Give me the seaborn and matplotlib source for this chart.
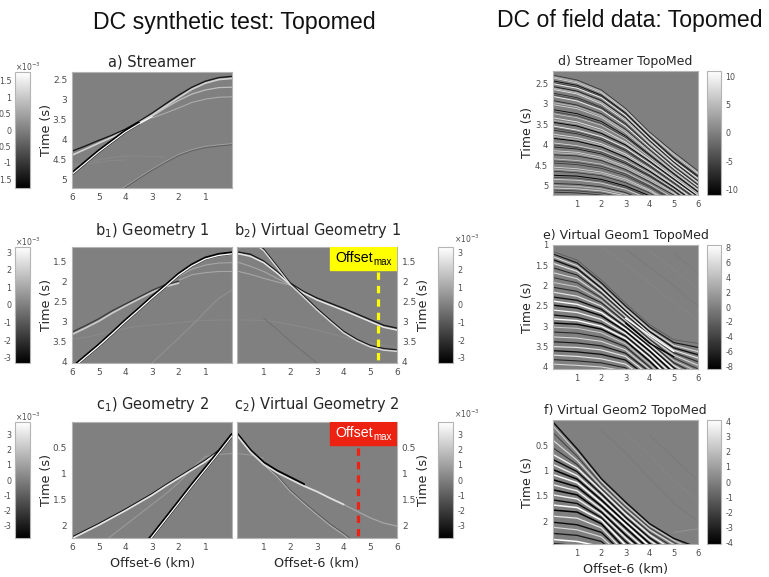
import numpy as np
import matplotlib
matplotlib.use("Agg")
import matplotlib.pyplot as plt
from matplotlib.cm import ScalarMappable
from matplotlib.colors import Normalize
from matplotlib.patches import Rectangle
import seaborn as sns

N = np.nan
sns.set_theme(style="white")
W, H = 769, 577

# ---------- synthetic panels: offset knots (km) and times (s) ----------
syn_x = [0, .5, 1, 1.5, 2, 2.5, 3, 3.5, 4, 4.5, 5, 5.5, 6]

a_t = [
    [N, N, N, N, N, N, N, N, 4.52, 4.53, 4.58, 4.62, 4.62],
    [N, N, N, N, N, 4.45, 4.43, 4.42, 4.42, 4.46, 4.52, 4.58, 4.70],
    [4.11, 4.14, 4.18, 4.26, 4.38, 4.56, 4.75, 4.96, 5.18, 5.40],
    [4.14, 4.17, 4.21, 4.29, 4.41, 4.59, 4.78, 4.99, 5.21, 5.43],
    [2.94, 2.95, 3.00, 3.08, 3.22, 3.35, 3.47],
    [2.70, 2.71, 2.77, 2.87, 3.03, 3.22, 3.43],
    [2.43, 2.46, 2.55, 2.70, 2.90, 3.12, 3.35, 3.56, 3.75, 3.90, 4.03, 4.17, 4.30],
    [2.48, 2.51, 2.60, 2.75, 2.96, 3.18, 3.40, 3.60, 3.79, 3.95, 4.10, 4.25, 4.40],
    [N, N, N, N, N, N, N, 3.60, 3.80, 4.05, 4.30, 4.58, 4.86],
    [N, N, N, N, N, N, 3.44, 3.62, 3.82, 4.07, 4.32, 4.60, 4.88],
]
a_amp = [.08, .08, .25, -.25, .35, .5, -.8, .65, -1, 1]
a_width = [.6, .6, .7, .7, .8, .9, 1.0, 1.2, 2.4, .9]

b1_t = [
    [2.97, 2.97, 2.98, 3.0, 3.03, 3.07, 3.09, 3.12, 3.18, 3.25, 3.33, 3.40, 3.44],
    [2.22, 2.43, 2.76, 3.10, 3.42, 3.73, 4.04, 4.30],
    [1.76, 1.76, 1.79, 1.84, 1.98],
    [1.54, 1.55, 1.60, 1.70, 1.88],
    [N, N, N, N, 2.05, 2.14, 2.28, 2.45, 2.62, 2.80, 3.0, 3.17, 3.33],
    [N, N, N, N, 2.0, 2.09, 2.23, 2.40, 2.57, 2.74, 2.94, 3.11, 3.27],
    [1.30, 1.34, 1.43, 1.60, 1.83, 2.12, 2.40, 2.70, 2.99, 3.30, 3.60, 3.88, 4.16],
    [1.32, 1.36, 1.45, 1.62, 1.85, 2.14, 2.42, 2.72, 3.01, 3.32, 3.62, 3.90, 4.18],
]
b1_amp = [.08, .15, .3, .3, .6, -.55, -1, 1]
b1_width = [.7, .7, .8, .8, 1.2, .9, 2.4, 1.0]

b2_t = [
    [2.97, 2.97, 2.98, 3.02, 3.08, 3.15, 3.22, 3.30, 3.40, 3.48, 3.55, 3.60, 3.65],
    [N, N, 2.92, 3.2, 3.5, 3.77, 4.04, 4.3],
    [1.75, 1.83, 1.93, 2.02, 2.10],
    [1.52, 1.63, 1.76, 1.93, 2.10],
    [1.27, 1.33, 1.50, 1.76, 2.05, 2.26, 2.42, 2.55, 2.68, 2.82, 2.96, 3.10, 3.17],
    [1.31, 1.38, 1.54, 1.80, 2.09, 2.30, 2.47, 2.60, 2.73, 2.87, 3.01, 3.15, 3.22],
    [N, .95, 1.2, 1.62, 2.05, 2.36, 2.68, 2.97, 3.25, 3.45, 3.60, 3.68, 3.71],
    [N, .99, 1.24, 1.66, 2.09, 2.40, 2.72, 3.01, 3.29, 3.49, 3.64, 3.72, 3.75],
]
b2_amp = [.08, -.12, .3, .3, -.8, .8, -.8, .7]
b2_width = [.7, .7, .8, .8, 1.0, 1.1, .9, 1.0]

c1_t = [
    [.61, .63, .67, .90, 1.18, 1.40, 1.60, 1.80, 2.0, 2.2, 2.4],
    [.22, .55, .74, .90, 1.06, 1.22, 1.39, 1.54, 1.69, 1.83, 1.97, 2.10, 2.23],
    [.25, .58, .77, .93, 1.09, 1.25, 1.42, 1.57, 1.72, 1.86, 2.00, 2.13, 2.26],
    [.25, .58, .90, 1.22, 1.55, 1.88, 2.21, 2.50],
    [.27, .60, .92, 1.24, 1.57, 1.90, 2.23, 2.52],
]
c1_amp = [.2, -.8, .8, -1, 1]
c1_width = [.8, .9, 1.2, 2.4, .9]

c2_t = [
    [.61, .64, .70],
    [N, N, .80, 1.03, 1.32, 1.55, 1.77, 1.98, 2.16, 2.36],
    [N, N, .83, 1.06, 1.35, 1.58, 1.80, 2.01, 2.19, 2.39],
    [N, N, N, N, N, N, N, N, 1.60, 1.73, 1.86, 1.96, 2.02],
    [.23, .55, .79, .95, 1.08, 1.21],
    [.26, .58, .82, .98, 1.11, 1.24, 1.35, 1.48, 1.60],
]
c2_amp = [.2, -.3, .4, .3, -1, .75]
c2_width = [.7, .7, .7, .9, 2.0, 1.3]

# ---------- field panels: offset knots (km) and times (s) ----------
field_x = [0, 1, 2, 3, 4, 5, 6]

d_t = [
    [2.30, 2.42, 2.66, 3.11, 3.69, 4.18, 4.63], [2.37, 2.49, 2.73, 3.17, 3.74, 4.25, 4.70],
    [2.44, 2.55, 2.79, 3.22, 3.80, 4.32, 4.76], [2.51, 2.62, 2.85, 3.28, 3.85, 4.38, 4.82],
    [2.58, 2.69, 2.92, 3.34, 3.90, 4.42, 4.88], [2.65, 2.76, 3.00, 3.41, 3.96, 4.47, 4.92],
    [2.74, 2.85, 3.08, 3.48, 4.02, 4.52, 4.97], [2.82, 2.93, 3.15, 3.54, 4.06, 4.56, 5.01],
    [2.92, 3.03, 3.24, 3.62, 4.12, 4.61, 5.05], [3.02, 3.12, 3.33, 3.70, 4.18, 4.66, 5.10],
    [3.14, 3.24, 3.43, 3.78, 4.24, 4.70, 5.14], [3.24, 3.34, 3.52, 3.85, 4.30, 4.75, 5.18],
    [3.34, 3.44, 3.62, 3.93, 4.35, 4.79, 5.22], [3.45, 3.54, 3.72, 4.00, 4.40, 4.83, 5.26],
    [3.54, 3.64, 3.80, 4.07, 4.46, 4.88, 5.30], [3.64, 3.73, 3.88, 4.14, 4.52, 4.93, 5.35],
    [3.74, 3.82, 3.97, 4.22, 4.58, 4.98, 5.40], [3.84, 3.91, 4.05, 4.30, 4.64, 5.03, 5.45],
    [3.95, 4.02, 4.14, 4.38, 4.70, 5.08, 5.50], [4.05, 4.10, 4.22, 4.45, 4.76, 5.12, 5.55],
    [4.14, 4.18, 4.30, 4.52, 4.82, 5.17, 5.60], [4.24, 4.27, 4.38, 4.60, 4.90, 5.22, 5.65],
    [4.34, 4.38, 4.47, 4.67, 4.96, 5.30], [4.44, 4.48, 4.57, 4.75, 5.03, 5.37],
    [4.54, 4.58, 4.66, 4.83, 5.10, 5.44], [4.64, 4.68, 4.75, 4.92, 5.17, 5.50],
    [4.74, 4.76, 4.84, 5.00, 5.24, 5.56], [4.84, 4.86, 4.93, 5.08, 5.32],
    [4.94, 4.96, 5.02, 5.16, 5.40], [5.05, 5.07, 5.12, 5.24, 5.48], [5.15, 5.17, 5.22, 5.34],
]
d_amp = [-.6, .7, -.9, .9, -.8, .8, -.7, .9, -.7, .7, -.9, .6, .8, -1, .9, -.7,
         .8, -1, .7, -.8, .7, -.7, .6, -.6, .7, -.6, -1, .7, -.7, .7, -.7]

d_mid_t = [
    [2.34, 2.46, 2.70, 3.14, 3.72, 4.22, 4.67], [2.48, 2.59, 2.82, 3.25, 3.83, 4.35, 4.79],
    [2.62, 2.73, 2.96, 3.37, 3.93, 4.45, 4.90], [2.78, 2.89, 3.11, 3.51, 4.04, 4.54, 4.99],
    [2.97, 3.07, 3.29, 3.66, 4.15, 4.63, 5.08], [3.19, 3.29, 3.48, 3.82, 4.27, 4.72, 5.16],
    [3.40, 3.49, 3.67, 3.96, 4.38, 4.81, 5.24], [3.59, 3.69, 3.84, 4.11, 4.49, 4.90, 5.32],
    [3.79, 3.87, 4.01, 4.26, 4.61, 5.00, 5.42], [4.00, 4.06, 4.18, 4.41, 4.73, 5.10, 5.52],
    [4.19, 4.22, 4.34, 4.56, 4.86, 5.20, 5.62], [4.39, 4.43, 4.52, 4.71, 5.00, 5.34],
    [4.59, 4.63, 4.70, 4.87, 5.13, 5.47], [4.79, 4.81, 4.88, 5.04, 5.28],
    [4.99, 5.01, 5.07, 5.20, 5.44], [5.10, 5.12, 5.17, 5.29, 5.50],
]
d_mid_amp = [.5, -.5, .5, -.45, .5, -.5, .45, -.5, .5, -.45, .5, -.5, .5, -.45, .5, -.5]

e_t = [
    [1.16, 1.37, 1.86, 2.43, 2.96, 3.33, 3.42], [1.22, 1.44, 1.93, 2.50, 3.02, 3.40, 3.52],
    [1.29, 1.51, 2.00, 2.56, 3.08, 3.47, 3.62], [1.36, 1.58, 2.06, 2.62, 3.13, 3.53, 3.70],
    [1.45, 1.65, 2.12, 2.66, 3.18, 3.59, 3.78], [1.56, 1.74, 2.18, 2.71, 3.22, 3.65, 3.87],
    [1.68, 1.83, 2.24, 2.76, 3.27, 3.71, 3.96], [1.80, 1.93, 2.30, 2.81, 3.32, 3.78, 4.05],
    [1.92, 2.03, 2.36, 2.86, 3.36, 3.84, 4.12], [2.04, 2.14, 2.42, 2.90, 3.40, 3.90, 4.20],
    [2.16, 2.26, 2.50, 2.96, 3.44, 3.96, 4.30], [2.28, 2.36, 2.58, 3.01, 3.50, 4.02, 4.40],
    [2.38, 2.46, 2.66, 3.07, 3.55, 4.08, 4.50], [2.48, 2.55, 2.74, 3.12, 3.61, 4.15],
    [2.60, 2.66, 2.83, 3.18, 3.67, 4.22], [2.72, 2.78, 2.93, 3.24, 3.73, 4.30],
    [2.82, 2.86, 3.00, 3.30, 3.79, 4.36], [2.92, 2.95, 3.07, 3.36, 3.86, 4.42],
    [3.02, 3.05, 3.16, 3.43, 3.93, 4.50], [3.14, 3.17, 3.27, 3.50, 4.00, 4.55],
    [3.26, 3.29, 3.37, 3.58, 4.06, 4.60], [3.38, 3.41, 3.48, 3.66, 4.12],
    [3.50, 3.52, 3.58, 3.74, 4.20], [3.60, 3.63, 3.69, 3.83, 4.28],
    [3.71, 3.74, 3.80, 3.93, 4.35], [3.82, 3.85, 3.90, 4.02, 4.42], [3.93, 3.96, 4.00, 4.10, 4.50],
    [N, N, N, 2.80, 3.22, 3.62], [N, N, N, 2.92, 3.42, 3.75],
]
e_amp = [-.3, -.8, .7, -.9, .8, -.7, .7, -.6, .6, -.7, .8, -.9, 1, -1, .9, -.9, 1, -1,
         .6, -.7, .7, -.8, .8, -.9, .8, -.7, .7, 1, -1]

e_faint_t = [
    [N, N, 1.05, 1.45, 1.95, 2.40, 2.85], [N, N, N, 1.10, 1.55, 2.0, 2.50],
    [N, N, N, N, 1.15, 1.60, 2.10], [N, N, N, N, N, 1.20, 1.70],
]
e_faint_amp = [.05, -.05, .05, -.05]

f_t = [
    [.04, .57, 1.16, 1.62, 2.05, 2.34, 2.52], [.12, .64, 1.21, 1.67, 2.09, 2.38, 2.60],
    [.25, .72, 1.26, 1.72, 2.13, 2.42, 2.66], [.40, .80, 1.31, 1.76, 2.17, 2.46, 2.72],
    [.55, .88, 1.36, 1.81, 2.22, 2.52], [.68, .95, 1.40, 1.86, 2.27, 2.58],
    [.78, 1.02, 1.46, 1.92, 2.33, 2.64], [.88, 1.10, 1.52, 1.97, 2.38, 2.70],
    [.98, 1.17, 1.58, 2.02, 2.44, 2.76], [1.08, 1.24, 1.64, 2.07, 2.50, 2.82],
    [1.18, 1.32, 1.70, 2.13, 2.56], [1.28, 1.40, 1.76, 2.20, 2.62], [1.38, 1.48, 1.82, 2.27, 2.68],
    [1.48, 1.56, 1.87, 2.33, 2.74], [1.58, 1.65, 1.93, 2.40, 2.80], [1.68, 1.73, 1.98, 2.47, 2.86],
    [1.78, 1.82, 2.05, 2.55], [1.90, 1.94, 2.13, 2.62], [2.02, 2.07, 2.22, 2.68], [2.12, 2.17, 2.31, 2.74],
    [2.24, 2.28, 2.40, 2.80], [2.36, 2.40, 2.50, 2.86], [2.44, 2.48, 2.58],
]
f_amp = [-.9, .6, -.5, .7, -.6, .9, -.9, .9, -1, 1, -1, .9, -1, .9, -.9, 1, -1, .8, -.9, .7, -.8, 1, -.8]

f_faint_t = [
    [N, N, N, N, N, 2.22, 2.15], [N, N, .20, .65, 1.15, 1.65, 2.0],
    [N, N, N, .25, .70, 1.20, 1.60], [N, N, N, N, .30, .75, 1.20],
]
f_faint_amp = [.18, -.05, .05, -.05]

# ---------- axes labels ----------
x_ticks = [1, 2, 3, 4, 5, 6]
a_yticks = [2.5, 3, 3.5, 4, 4.5, 5]
b_yticks = [1.5, 2, 2.5, 3, 3.5, 4]
c_yticks = [.5, 1, 1.5, 2]
d_yticks = [2.5, 3, 3.5, 4, 4.5, 5]
e_yticks = [1, 1.5, 2, 2.5, 3, 3.5, 4]
f_yticks = [.5, 1, 1.5, 2]
cb_a_ticks = [-1.5, -1, -.5, 0, .5, 1, 1.5]
cb_a_labels = ["1.5", "-1", "0.5", "0", "0.5", "1", "1.5"]
cb_b_ticks = [-3, -2, -1, 0, 1, 2, 3]
cb_d_ticks = [-10, -5, 0, 5, 10]
cb_e_ticks = [-8, -6, -4, -2, 0, 2, 4, 6, 8]
cb_f_ticks = [-4, -3, -2, -1, 0, 1, 2, 3, 4]

fig = plt.figure(figsize=(W / 100, H / 100), dpi=100)
BG = "#808080"
TXT = "#262626"
TICK = "#4d4d4d"
EDGE = "#b4b4b4"


def box(x0, y0, x1, y1):
    return [x0 / W, 1 - y1 / H, (x1 - x0) / W, (y1 - y0) / H]


def fmt(v):
    return f"{v:g}"


def finish(ax, rect, xlim, ylim, yticks, right=False, xlabel=False, ylab_x=53, fs=9.2, ts=6.5):
    ax.set_xlim(*xlim)
    ax.set_ylim(*ylim)
    ax.set_xticks(x_ticks, [str(v) for v in x_ticks])
    ax.set_yticks(yticks, [fmt(v) for v in yticks])
    ax.tick_params(length=0, labelsize=ts, labelcolor=TICK, pad=3.5)
    if right:
        ax.yaxis.tick_right()
        ax.yaxis.set_label_position("right")
    ax.set_ylabel("Time (s)", fontsize=fs, color=TXT)
    ax.yaxis.set_label_coords((ylab_x - rect[0]) / (rect[2] - rect[0]), .5)
    if xlabel:
        ax.set_xlabel("Offset-6 (km)", fontsize=9.2, color=TXT, labelpad=4)
    else:
        ax.set_xlabel("")
    for s in ax.spines.values():
        s.set_color(EDGE)
        s.set_linewidth(.8)


def stroke(ax, xs, ts, amp, width):
    xs, ts = np.asarray(xs[:len(ts)], float), np.asarray(ts, float)
    keep = ~np.isnan(ts)
    g = float(np.clip(.5 + .5 * amp, 0, 1))
    sns.lineplot(x=xs[keep], y=ts[keep], color=(g, g, g), linewidth=width, ax=ax,
                 estimator=None, sort=False, legend=False, errorbar=None)


def colorbar(rect, limit, ticks, left=False, exponent=None, labels=None):
    cax = fig.add_axes(box(*rect))
    sm = ScalarMappable(Normalize(-limit, limit), cmap="gray")
    cb = fig.colorbar(sm, cax=cax, ticks=ticks)
    cb.ax.set_yticklabels(labels or [fmt(v) for v in ticks])
    cb.ax.tick_params(length=0, labelsize=5.8, labelcolor=TICK, pad=3 if not left else 2.5)
    if left:
        cb.ax.yaxis.tick_left()
    cb.outline.set_edgecolor(EDGE)
    cb.outline.set_linewidth(.8)
    if exponent:
        fig.text(exponent[0] / W, 1 - exponent[1] / H, r"$\times 10^{-3}$", fontsize=5.5, color=TICK,
                 va="baseline", ha="left")


# Synthetic panels
syn_panels = [
    ((72, 72, 232, 188), (6, 0), (5.22, 2.32), a_yticks, "a) Streamer", 4, a_t, a_amp, a_width, False, False),
    ((72, 247, 232, 363), (6, 0), (4.04, 1.15), b_yticks, r"b$_{1}$) Geometry 1", 9, b1_t, b1_amp, b1_width, False, False),
    ((237, 247, 397, 363), (0, 6), (4.04, 1.15), b_yticks, r"b$_{2}$) Virtual Geometry 1", 9, b2_t, b2_amp, b2_width, True, False),
    ((72, 422, 232, 538), (6, 0), (2.25, 0), c_yticks, r"c$_{1}$) Geometry 2", 9, c1_t, c1_amp, c1_width, False, True),
    ((237, 422, 397, 538), (0, 6), (2.25, 0), c_yticks, r"c$_{2}$) Virtual Geometry 2", 9, c2_t, c2_amp, c2_width, True, True),
]
axes = {}
for rect, xl, yl, yt, title, pad, rows, amps, widths, right, xlab in syn_panels:
    ax = fig.add_axes(box(*rect))
    ax.set_facecolor(BG)
    for r, am, wd in zip(rows, amps, widths):
        stroke(ax, syn_x, r, am, wd)
    ax.set_title(title, fontsize=10.5, color=TXT, pad=pad)
    finish(ax, rect, xl, yl, yt, right=right, xlabel=xlab, ylab_x=417 if right else 53)
    axes[title] = ax

# Field panels
field_panels = [
    ((553, 71, 698, 195), (5.22, 2.2), d_yticks, "d) Streamer TopoMed", d_t, d_amp, d_mid_t, d_mid_amp, False, .3, .4),
    ((553, 245, 698, 369), (4.05, 1.0), e_yticks, "e) Virtual Geom1 TopoMed", e_t, e_amp, e_faint_t, e_faint_amp, False, .3, .7),
    ((553, 420, 698, 544), (2.45, 0), f_yticks, "f) Virtual Geom2 TopoMed", f_t, f_amp, f_faint_t, f_faint_amp, True, .3, .8),
]
for rect, yl, yt, title, rows, amps, frows, famps, xlab, w0, w1 in field_panels:
    ax = fig.add_axes(box(*rect))
    ax.set_facecolor(BG)
    for r, am in zip(frows, famps):
        stroke(ax, field_x, r, am, .6)
    for r, am in zip(rows, amps):
        stroke(ax, field_x, r, am, w0 + w1 * abs(am))
    ax.set_title(title, fontsize=9.0, color=TXT, pad=4)
    finish(ax, rect, (0, 6), yl, yt, xlabel=xlab, ylab_x=534, fs=9, ts=6)

# Offset-max annotations
marks = [(r"b$_{2}$) Virtual Geometry 1", 5.27, 1.775, "#ffff00", "black"),
         (r"c$_{2}$) Virtual Geometry 2", 4.55, .50, "#ee2211", "white")]
for key, xv, t0, col, tc in marks:
    ax = axes[key]
    ymin, ymax = ax.get_ylim()
    ax.plot([xv, xv], [t0, ymin], color=col, lw=2.3, ls=(0, (2.3, 1.9)))
    ax.add_patch(Rectangle((.5835, .8), .4165, .2, transform=ax.transAxes, color=col, zorder=5))
    ax.text(.85, .905, "Offset", transform=ax.transAxes, ha="right", va="center", fontsize=10.2, color=tc,
            family="Liberation Sans", zorder=6)
    ax.text(.85, .868, "max", transform=ax.transAxes, ha="left", va="center", fontsize=7, color=tc,
            family="Liberation Sans", zorder=6)

# Colour bars
colorbar((15, 72, 30, 188), 1.76, cb_a_ticks, left=True, exponent=(15, 71), labels=cb_a_labels)
colorbar((15, 247, 30, 363), 3.3, cb_b_ticks, left=True, exponent=(15, 246))
colorbar((438, 247, 453, 363), 3.3, cb_b_ticks, exponent=(454, 243))
colorbar((15, 422, 30, 538), 3.8, cb_b_ticks, left=True, exponent=(15, 421))
colorbar((438, 422, 453, 538), 3.8, cb_b_ticks, exponent=(454, 418))
colorbar((707, 71, 721, 195), 11, cb_d_ticks)
colorbar((707, 245, 721, 369), 8.3, cb_e_ticks)
colorbar((707, 420, 721, 544), 4.1, cb_f_ticks)

# Big headings
fig.text(234 / W, 1 - 22 / H, "DC synthetic test: Topomed", ha="center", va="center",
         fontsize=16.7, color="#111111", family="Liberation Sans")
fig.text(630 / W, 1 - 21 / H, "DC of field data: Topomed", ha="center", va="center",
         fontsize=16.6, color="#111111", family="Liberation Sans")

fig.savefig("out.png", dpi=100)
